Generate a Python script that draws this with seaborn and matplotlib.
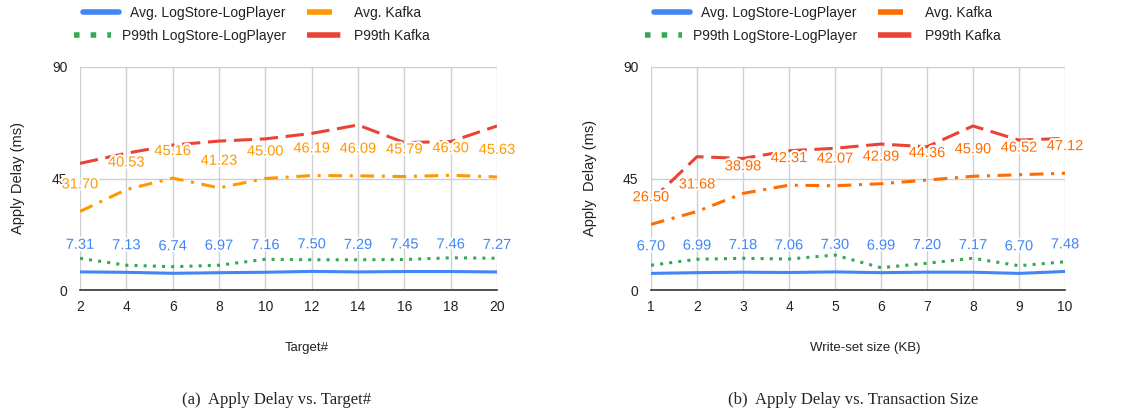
import seaborn as sns
import matplotlib.pyplot as plt
import matplotlib.patheffects as pe
from matplotlib.lines import Line2D

# ---- data ----
targets = [2, 4, 6, 8, 10, 12, 14, 16, 18, 20]
a_avg_ls = [7.31, 7.13, 6.74, 6.97, 7.16, 7.50, 7.29, 7.45, 7.46, 7.27]
a_avg_kafka = [31.70, 40.53, 45.16, 41.23, 45.00, 46.19, 46.09, 45.79, 46.30, 45.63]
a_p99_ls = [12.8, 10.0, 9.4, 10.0, 12.4, 12.2, 12.2, 12.3, 13.0, 12.8]
a_p99_kafka = [51.1, 55.2, 58.5, 60.1, 61.0, 63.2, 66.6, 59.5, 59.9, 66.2]

sizes = [1, 2, 3, 4, 5, 6, 7, 8, 9, 10]
b_avg_ls = [6.70, 6.99, 7.18, 7.06, 7.30, 6.99, 7.20, 7.17, 6.70, 7.48]
b_avg_kafka = [26.50, 31.68, 38.98, 42.31, 42.07, 42.89, 44.36, 45.90, 46.52, 47.12]
b_p99_ls = [10.0, 12.4, 12.8, 12.5, 14.1, 9.0, 10.8, 12.8, 9.8, 11.4]
b_p99_kafka = [36.0, 53.8, 53.1, 56.2, 57.2, 58.9, 57.8, 66.2, 60.5, 61.2]

labels = ['Avg. LogStore-LogPlayer', 'Avg. Kafka', 'P99th LogStore-LogPlayer', 'P99th Kafka']

BLUE = '#4285F4'
GREEN = '#34A853'
RED = '#EA4335'

sns.set_style('white')
plt.rcParams['font.family'] = ['Liberation Sans', 'DejaVu Sans']

fig = plt.figure(figsize=(11.27, 4.13), dpi=100)
W, H = 1127, 413


def px_axes(x0, x1, y0, y1):
    return fig.add_axes([x0 / W, 1 - y1 / H, (x1 - x0) / W, (y1 - y0) / H])


def styles(orange):
    return [
        dict(color=BLUE, linestyle='-', linewidth=2.2),
        dict(color=orange, linestyle=(0, (4.5, 2.5, 1, 2.5)), linewidth=2.2),
        dict(color=GREEN, linestyle=(0, (1, 2)), linewidth=2.2),
        dict(color=RED, linestyle=(0, (6, 2.5)), linewidth=2.2),
    ]


def draw_panel(ax, x, series, orange):
    st = styles(orange)
    for ys, s in zip(series, st):
        sns.lineplot(x=x, y=ys, ax=ax, legend=False, **s)
    # value labels for the average series
    for ys, col in [(series[0], BLUE), (series[1], orange)]:
        for xi, yi in zip(x, ys):
            ax.annotate(f'{yi:.2f}', (xi, yi), xytext=(0, 19.5), textcoords='offset points',
                        ha='center', va='center', fontsize=10.5, color=col, zorder=5,
                        annotation_clip=False,
                        path_effects=[pe.withStroke(linewidth=3, foreground='white')])
    ax.set_xlim(x[0], x[-1])
    ax.set_ylim(0, 90)
    ax.set_xticks(x)
    ax.set_yticks([0, 45, 90])
    ax.grid(True, color='#d0d0d0', linewidth=1)
    ax.set_axisbelow(True)
    for side in ['top', 'right', 'left']:
        ax.spines[side].set_visible(False)
    ax.spines['bottom'].set_color('#333333')
    ax.spines['bottom'].set_linewidth(1.2)
    ax.tick_params(length=0, labelsize=10, colors='#222222', pad=7)
    ax.tick_params(axis='y', pad=9)
    ax.set_xlabel('')
    ax.set_ylabel('')
    return st


def legend_rows(st, cx):
    handles = [Line2D([], [], **s) for s in st]
    for h in handles:
        h.set_linewidth(4)
    for idx, cy in [((0, 1), 13), ((2, 3), 36)]:
        fig.legend([handles[i] for i in idx], [labels[i] for i in idx], ncol=2,
                   loc='center', bbox_to_anchor=(cx / W, 1 - cy / H), frameon=False,
                   fontsize=10, handlelength=2.6, columnspacing=1.5, handletextpad=0.8,
                   labelcolor='#222222')


ax1 = px_axes(80, 497, 67, 290)
st1 = draw_panel(ax1, targets, [a_avg_ls, a_avg_kafka, a_p99_ls, a_p99_kafka], '#FF9900')
ax2 = px_axes(651, 1065, 67, 290)
st2 = draw_panel(ax2, sizes, [b_avg_ls, b_avg_kafka, b_p99_ls, b_p99_kafka], '#FF6D01')

legend_rows(st1, 252)
legend_rows(st2, 823)

fig.text(18 / W, 1 - 178 / H, 'Apply Delay (ms)', rotation=90, ha='center', va='center',
         fontsize=10.5, color='#222222')
fig.text(590 / W, 1 - 178 / H, 'Apply  Delay (ms)', rotation=90, ha='center', va='center',
         fontsize=10.5, color='#222222')
fig.text(307 / W, 1 - 348 / H, 'Target#', ha='center', va='center', fontsize=9.5, color='#222222')
fig.text(865 / W, 1 - 348 / H, 'Write-set size (KB)', ha='center', va='center', fontsize=9.5,
         color='#222222')
fig.text(277 / W, 1 - 400 / H, '(a)  Apply Delay vs. Target#', ha='center', va='center',
         fontsize=12, family=['Liberation Serif', 'DejaVu Serif'])
fig.text(853 / W, 1 - 400 / H, '(b)  Apply Delay vs. Transaction Size', ha='center', va='center',
         fontsize=12, family=['Liberation Serif', 'DejaVu Serif'])

fig.savefig('out.png', dpi=100)
